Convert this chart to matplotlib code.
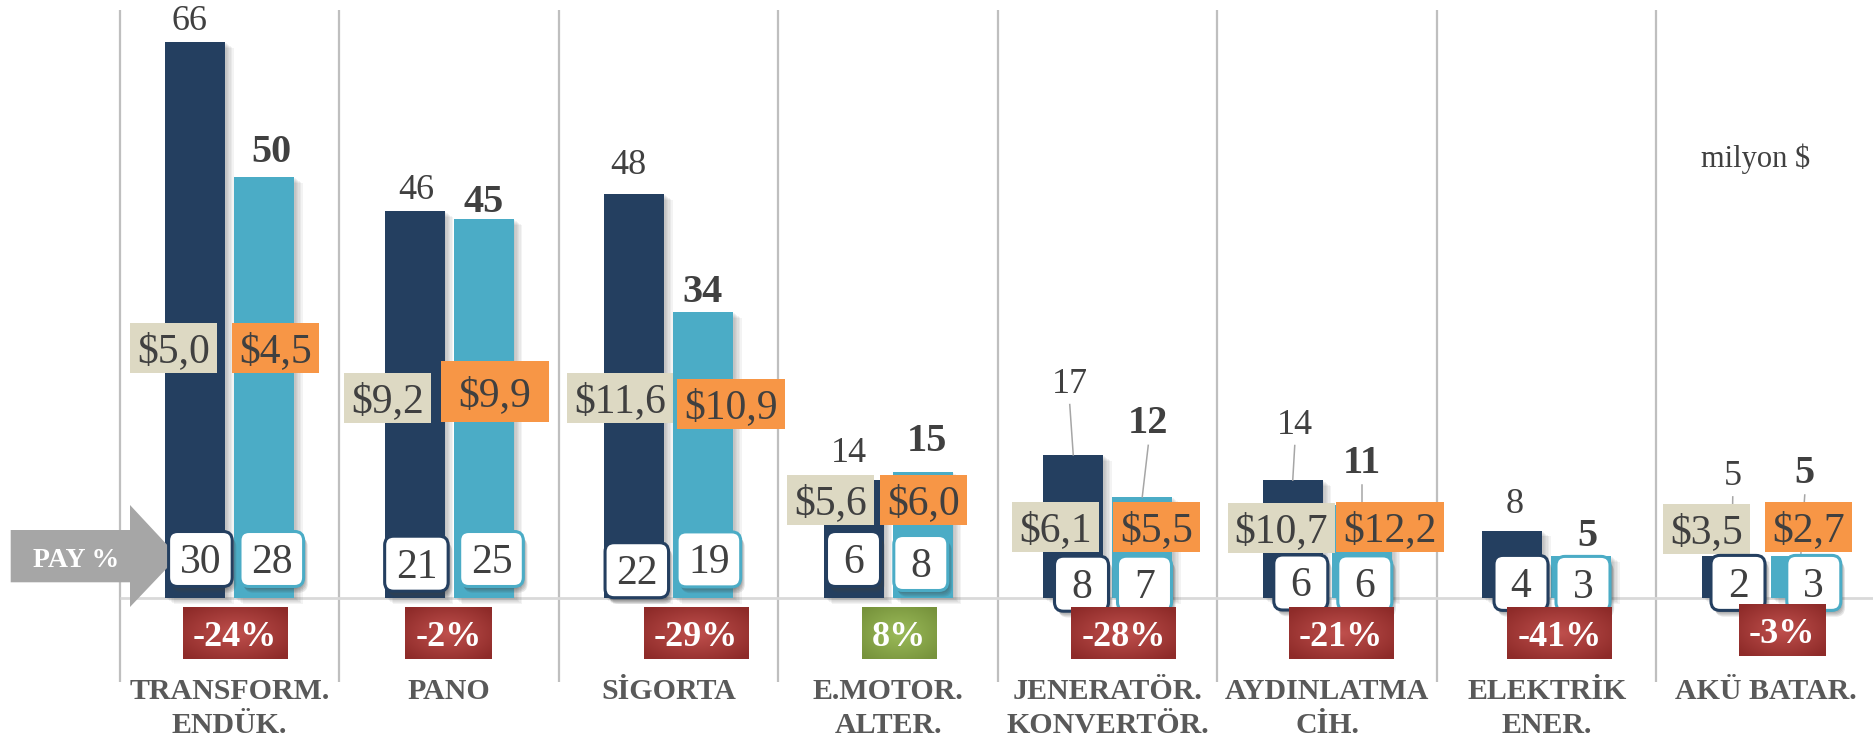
import matplotlib
matplotlib.use("Agg")
import matplotlib.pyplot as plt
import numpy as np
from matplotlib.patches import Rectangle, FancyBboxPatch, Polygon
from matplotlib.transforms import Affine2D
from matplotlib.colors import LinearSegmentedColormap
import matplotlib.patheffects as pe

# ---------------- data ----------------
categories = [["TRANSFORM.", "ENDÜK."], ["PANO"], ["SİGORTA"], ["E.MOTOR.", "ALTER."],
              ["JENERATÖR.", "KONVERTÖR."], ["AYDINLATMA", "CİH."], ["ELEKTRİK", "ENER."],
              ["AKÜ BATAR."]]
prev_values = [66, 46, 48, 14, 17, 14, 8, 5]
curr_values = [50, 45, 34, 15, 12, 11, 5, 5]
prev_share = [30, 21, 22, 6, 8, 6, 4, 2]
curr_share = [28, 25, 19, 8, 7, 6, 3, 3]
prev_price = ["$5,0", "$9,2", "$11,6", "$5,6", "$6,1", "$10,7", None, "$3,5"]
curr_price = ["$4,5", "$9,9", "$10,9", "$6,0", "$5,5", "$12,2", None, "$2,7"]
change_pct = [-24, -2, -29, 8, -28, -21, -41, -3]
unit_label = "milyon $"
share_label = "PAY %"

# ---------------- layout (pixels) ----------------
W, H, DPI = 1874, 739, 100
CAT0, STEP, BASE, PPU = 229.75, 219.5, 598.0, 8.42
BAR_OFF, BAR_W = 34.5, 60

# value-label gap above bar top (px) and x-shift (px); leader flags
lab1_gap = [12.3, 11.4, 19.7, 17.7, 62.3, 46.6, 17.3, 71]
lab1_dx = [-6, 2, -6, -5, -3.5, 2, 2.5, 1]
lab1_leader = [0, 0, 0, 0, 1, 1, 0, 1]
lab2_gap = [15.3, 7.6, 9.3, 20.7, 63.6, 32.4, 9.9, 72.9]
lab2_dx = [7, 0, -1, 4, 6, 0, 6, 4]
lab2_leader = [0, 0, 0, 0, 1, 1, 0, 1]

# price boxes: centres (px) and heights
p1_pos = [(173.5, 348), (387.5, 398), (620.4, 398), (830.3, 499.5), (1055.5, 527),
          (1281.5, 528), None, (1706.3, 528.5)]
p2_pos = [(275.5, 348), (495, 391.5), (731, 404), (923.3, 499.5), (1156.5, 527),
          (1390, 527), None, (1808.5, 527)]
p2_h = [50, 61, 50, 50, 50, 50, 50, 50]
p2_pad = [14, 35, 14, 14, 14, 14, 14, 14]

# share boxes centres (px)
s1_pos = [(200.4, 559), (416.4, 563.7), (636.8, 570.2), (853.5, 559), (1081.5, 583.7),
          (1300.8, 582.5), (1521, 582.9), (1738, 582.9)]
s2_pos = [(271.8, 559), (491.5, 559), (708.9, 559.4), (920.8, 563), (1144.5, 583.7),
          (1364.8, 583.4), (1583, 583.9), (1813.8, 582.9)]

# change boxes centres (px)
c_pos = [(235, 633), (448.5, 633), (696, 633), (899.3, 633), (1123.5, 633),
         (1340.8, 633), (1559.5, 633), (1781.9, 630.5)]

DARK = "#243f60"
LIGHT = "#4bacc6"
BEIGE = "#ddd9c3"
ORANGE = "#f79646"
TXT = "#404040"
CATC = "#595959"
SEP = "#bfbfbf"
BASEC = "#d9d9d9"
SERIF = "Liberation Serif"

fig = plt.figure(figsize=(W / DPI, H / DPI), dpi=DPI)
fig.patch.set_facecolor("white")
ax = fig.add_axes([0, 0, 1, 1])
ax.set_axis_off()
ax.set_xlim(-CAT0 / STEP, (W - CAT0) / STEP)
ax.set_ylim((BASE - H) / PPU, BASE / PPU)
PX = Affine2D().scale(1, -1).translate(0, H)
renderer = fig.canvas.get_renderer()


def X(px):
    return (px - CAT0) / STEP


def Y(py):
    return (BASE - py) / PPU


def to_px(x, y):
    dx, dy = ax.transData.transform((x, y))
    return dx, H - dy


def soft_shadow(steps=6, dx=1.0, dy=-0.7, alpha=0.07, color="#606060"):
    eff = [pe.SimplePatchShadow(offset=(k * dx, k * dy), shadow_rgbFace=color, alpha=alpha)
           for k in range(steps, 0, -1)]
    return eff + [pe.Normal()]


n = len(prev_values)
xs = np.arange(n)

# separators & baseline
ax.vlines(xs - 0.5, Y(682), Y(10), color=SEP, lw=1.6, zorder=1)
ax.hlines(0, -0.5, n, color=BASEC, lw=2, zorder=1)

# bars
ax.bar(xs - BAR_OFF / STEP, prev_values, BAR_W / STEP, color=DARK, zorder=3, path_effects=soft_shadow())
ax.bar(xs + BAR_OFF / STEP, curr_values, BAR_W / STEP, color=LIGHT, zorder=3, path_effects=soft_shadow())

# value labels
for vals, gaps, dxs, leads, sgn, weight, size in [
        (prev_values, lab1_gap, lab1_dx, lab1_leader, -1, "normal", 26),
        (curr_values, lab2_gap, lab2_dx, lab2_leader, 1, "bold", 29)]:
    for i, v in enumerate(vals):
        bx, top = to_px(i + sgn * BAR_OFF / STEP, v)
        lx, ly = bx + dxs[i], top - gaps[i]
        ax.text(lx, ly, str(v), transform=PX, ha="center", va="baseline", fontsize=size,
                fontweight=weight, family=SERIF, color=TXT, zorder=10)
        if leads[i]:
            ax.plot([lx, bx], [ly + 12, top], transform=PX, color="#a6a6a6", lw=1.1, zorder=4)

# price boxes
for labels, poss, col, hs, pads in [(prev_price, p1_pos, BEIGE, [50] * n, [14] * n),
                                    (curr_price, p2_pos, ORANGE, p2_h, p2_pad)]:
    for i, s in enumerate(labels):
        if s is None:
            continue
        cx, cy = poss[i]
        t = ax.text(cx, cy + 14.5, s, transform=PX, ha="center", va="baseline", fontsize=30,
                    family=SERIF, color=TXT, zorder=8)
        w = t.get_window_extent(renderer).width + pads[i]
        h = hs[i]
        ax.add_patch(Rectangle((cx - w / 2, cy - h / 2), w, h, transform=PX, fc=col, ec="none", zorder=7))

# share boxes
for vals, poss, ec in [(prev_share, s1_pos, DARK), (curr_share, s2_pos, LIGHT)]:
    for i, v in enumerate(vals):
        cx, cy = poss[i]
        t = ax.text(cx, cy + 14, str(v), transform=PX, ha="center", va="baseline", fontsize=30,
                    family=SERIF, color=TXT, zorder=11)
        w = max(t.get_window_extent(renderer).width + 22, 54)
        h = 55
        ax.add_patch(FancyBboxPatch((cx - w / 2, cy - h / 2), w, h,
                                    boxstyle="round,pad=0,rounding_size=9", transform=PX,
                                    fc="white", ec=ec, lw=2.2, zorder=10,
                                    path_effects=soft_shadow(steps=5, dx=0.6, dy=-0.9, alpha=0.12,
                                                             color="#404040")))

# change boxes (radial gradient)
red_cmap = LinearSegmentedColormap.from_list("r", ["#c0504d", "#8e2b29"])
green_cmap = LinearSegmentedColormap.from_list("g", ["#9bbb59", "#77933c"])
gy, gx = np.mgrid[-1:1:60j, -1:1:120j]
grad = np.clip(np.sqrt(gx ** 2 + gy ** 2) / 1.3, 0, 1)
for i, c in enumerate(change_pct):
    cx, cy = c_pos[i]
    s = f"{c}%"
    t = ax.text(cx, cy + 12.5, s, transform=PX, ha="center", va="baseline", fontsize=26,
                fontweight="bold", family=SERIF, color="white", zorder=12)
    w = t.get_window_extent(renderer).width + 20
    h = 52
    ax.imshow(grad, extent=[X(cx - w / 2), X(cx + w / 2), Y(cy + h / 2), Y(cy - h / 2)],
              cmap=red_cmap if c < 0 else green_cmap, vmin=0, vmax=1, aspect="auto",
              interpolation="bilinear", zorder=11)

# category labels
for i, lines in enumerate(categories):
    cx, _ = to_px(i, 0)
    for j, line in enumerate(lines):
        ax.text(cx, 699 + 34 * j, line, transform=PX, ha="center", va="baseline", fontsize=21.5,
                fontweight="bold", family=SERIF, color=CATC, zorder=5)

# PAY % arrow
arrow = Polygon([(10.7, 530), (130, 530), (130, 505), (178, 556.5), (130, 607), (130, 582.3), (10.7, 582.3)],
                closed=True, transform=PX, fc="#a6a6a6", ec="none", zorder=4)
ax.add_patch(arrow)
ax.text(75.7, 567.3, share_label, transform=PX, ha="center", va="baseline", fontsize=20,
        fontweight="bold", family=SERIF, color="white", zorder=5)

# unit label
ax.text(1756, 167, unit_label, transform=PX, ha="center", va="baseline", fontsize=22,
        family=SERIF, color=TXT, zorder=5)

ax.set_xlim(-CAT0 / STEP, (W - CAT0) / STEP)
ax.set_ylim((BASE - H) / PPU, BASE / PPU)
fig.savefig("out.png", dpi=DPI, facecolor="white")
